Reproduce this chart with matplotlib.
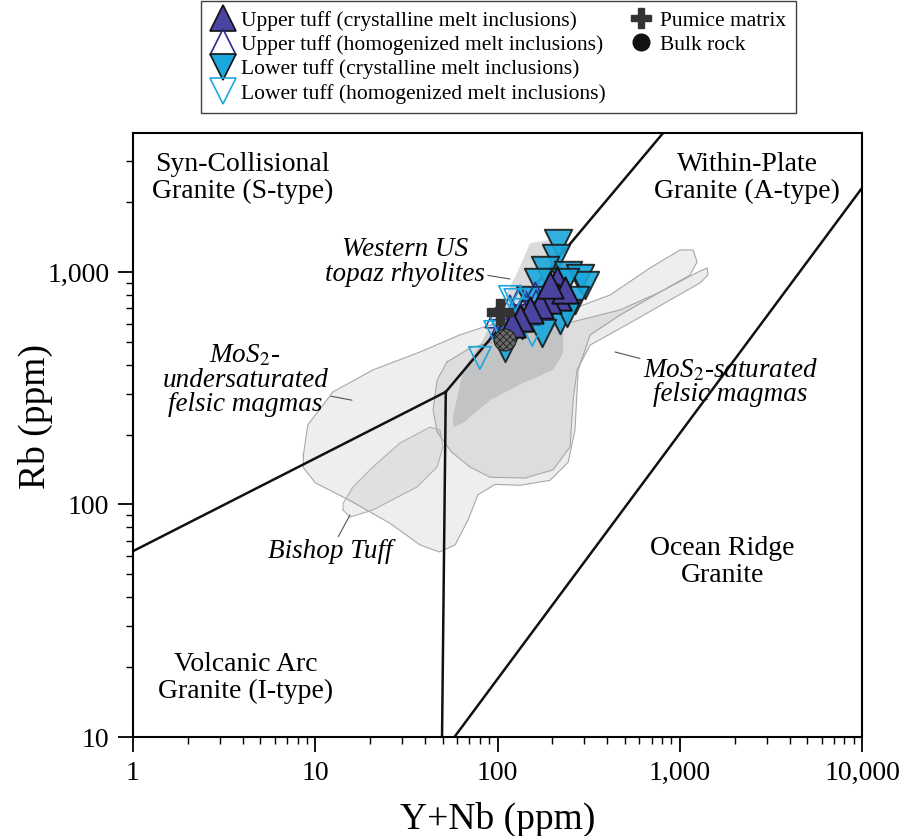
import matplotlib
matplotlib.use('Agg')
import matplotlib.pyplot as plt
from matplotlib.lines import Line2D
from matplotlib.ticker import FuncFormatter, LogLocator, NullFormatter

plt.rcParams['font.family'] = ['Liberation Serif', 'DejaVu Serif']
plt.rcParams['mathtext.fontset'] = 'stix'
plt.rcParams['hatch.linewidth'] = 0.6

# discrimination boundaries (Y+Nb, Rb)
syncolg_vag_x = [1, 52]
syncolg_vag_y = [63, 305]
vag_wpg_x = [52, 49.6]
vag_wpg_y = [305, 10]
syncolg_wpg_x = [52, 810]
syncolg_wpg_y = [305, 3960]
wpg_org_x = [58, 10000]
wpg_org_y = [10, 2300]

# field outlines
under_x = [8.6, 9.1, 12.5, 20.7, 37.6, 62, 91, 151, 250, 414, 687, 1003, 1183, 1244, 1138,
           780, 470, 322, 277, 266, 244, 194, 133, 97, 78, 69, 58.5, 48, 37.6, 25.7, 15.5, 10, 8.6]
under_y = [163, 220, 305, 379, 453, 536, 592, 634, 687, 796, 1041, 1244, 1244, 1104, 971,
           820, 653, 536, 379, 209, 152, 127, 121, 122, 110, 86, 67, 62.5, 67, 83, 104, 124, 144]
sat_x = [52.8, 46.6, 44.3, 46.6, 56, 70.6, 91, 142, 202, 250, 260, 273, 322, 533, 885, 1291,
         1429, 1413, 1259, 780, 470, 284, 171, 103, 70.6]
sat_y = [410, 343, 255, 205, 168, 145, 131, 130, 141, 177, 281, 379, 485, 604, 758, 897,
         971, 1041, 1000, 820, 687, 622, 564, 510, 471]
bishop_x = [14.2, 15.5, 20.7, 36.2, 46.6, 50.2, 48.3, 42.6, 29.2, 20.7, 16.1, 14.2]
bishop_y = [94.7, 88.3, 94.7, 119, 145, 177, 209, 215, 184, 145, 119, 101]
topaz_x = [151, 194, 212, 229, 241, 229, 229, 202, 138, 91, 64.7, 57, 57, 64.7, 83, 99, 128]
topaz_y = [1333, 1374, 1282, 1093, 837, 604, 449, 379, 333, 281, 224, 215, 238, 379, 510, 667, 990]

# melt inclusion and rock data
upper_cryst_x = [212, 215, 189, 171, 151, 133, 235, 194, 120]
upper_cryst_y = [924, 781, 758, 721, 687, 634, 837, 879, 600]
upper_homog_x = [103, 117, 125, 142, 110, 133, 161, 97, 110, 120, 133, 146, 163, 182,
                 103, 125, 151, 171, 194]
upper_homog_y = [687, 721, 653, 758, 622, 796, 820, 634, 592, 634, 673, 706, 758, 813,
                 574, 610, 653, 687, 758]
lower_cryst_x = [215, 209, 182, 244, 284, 167, 302, 235, 266, 220, 241, 175, 136, 110, 194, 151]
lower_cryst_y = [1333, 1149, 1020, 971, 943, 906, 879, 906, 758, 622, 667, 547, 592, 471, 721, 758]
lower_homog_x = [80, 97, 107, 155, 117, 125, 103, 133]
lower_homog_y = [427, 552, 552, 536, 781, 758, 592, 687]
pumice_x = [103]
pumice_y = [673]
bulk_x = [110]
bulk_y = [510]

c_up = '#4a43a0'
c_up_edge = '#2e2a8c'
c_low = '#1aa8dc'

fig = plt.figure(figsize=(9.08, 8.36), dpi=100)
ax = fig.add_axes([0.1465, 0.1184, 0.8029, 0.7225])
ax.set_xscale('log')
ax.set_yscale('log')
ax.set_xlim(1, 10000)
ax.set_ylim(10, 3960)

# fields
ax.fill(under_x, under_y, facecolor='#7f8085', alpha=0.13, zorder=1)
ax.plot(under_x + under_x[:1], under_y + under_y[:1], color='#a8a8a8', lw=0.8, zorder=1)
ax.fill(sat_x, sat_y, facecolor='#7f8085', alpha=0.15, zorder=1)
ax.plot(sat_x + sat_x[:1], sat_y + sat_y[:1], color='#a8a8a8', lw=0.8, zorder=1)
ax.fill(bishop_x, bishop_y, facecolor='#7f8085', alpha=0.12, zorder=1)
ax.plot(bishop_x + bishop_x[:1], bishop_y + bishop_y[:1], color='#b0b0b0', lw=0.8, zorder=1)
ax.fill(topaz_x, topaz_y, facecolor='#7f8085', alpha=0.28, zorder=1)

# boundaries
for bx, by in [(syncolg_vag_x, syncolg_vag_y), (vag_wpg_x, vag_wpg_y),
               (syncolg_wpg_x, syncolg_wpg_y), (wpg_org_x, wpg_org_y)]:
    ax.plot(bx, by, color='#111111', lw=1.8, zorder=2)

# data
ax.scatter(lower_cryst_x, lower_cryst_y, marker='v', s=390, facecolor=c_low,
           edgecolor='#1a1a1a', linewidth=1.4, alpha=0.9, zorder=3)
ax.scatter(upper_homog_x, upper_homog_y, marker='^', s=200, facecolor='none',
           edgecolor=c_up_edge, linewidth=1.1, zorder=4)
ax.scatter(lower_homog_x, lower_homog_y, marker='v', s=260, facecolor='none',
           edgecolor=c_low, linewidth=1.2, zorder=4)
ax.scatter(upper_cryst_x, upper_cryst_y, marker='^', s=360, facecolor=c_up,
           edgecolor='#111111', linewidth=1.4, zorder=5)
ax.scatter(pumice_x, pumice_y, marker='P', s=330, color='#333333', zorder=6)
ax.scatter(bulk_x, bulk_y, marker='o', s=250, facecolor='#6a6a6a', edgecolor='#222222',
           hatch='xxxxx', linewidth=0.8, zorder=6)

# field labels
for tx, ty, txt in [(4.0, 2535, 'Syn-Collisional\nGranite (S-type)'),
                    (2340, 2535, 'Within-Plate\nGranite (A-type)'),
                    (1706, 56.6, 'Ocean Ridge\nGranite'),
                    (4.17, 17.9, 'Volcanic Arc\nGranite (I-type)')]:
    ax.text(tx, ty, txt, ha='center', va='center', fontsize=20, linespacing=1.1)

lead = dict(arrowstyle='-', color='#555555', lw=0.8, shrinkA=0, shrinkB=0)
ax.annotate('Western US\ntopaz rhyolites', xy=(117, 933), xytext=(31.1, 1104),
            ha='center', va='center', fontsize=19.5, style='italic', linespacing=0.95,
            arrowprops=lead)
ax.annotate('MoS$_2$-\nundersaturated\nfelsic magmas', xy=(15.9, 281), xytext=(4.12, 343),
            ha='center', va='center', fontsize=19.5, style='italic', linespacing=0.95,
            arrowprops=lead)
ax.annotate('MoS$_2$-saturated\nfelsic magmas', xy=(441, 453), xytext=(1888, 336),
            ha='center', va='center', fontsize=19.5, style='italic', linespacing=0.95,
            arrowprops=lead)
ax.annotate('Bishop Tuff', xy=(15.5, 90.2), xytext=(12.05, 62.5),
            ha='center', va='center', fontsize=19.5, style='italic', arrowprops=lead)

# axes styling
for sp in ax.spines.values():
    sp.set_linewidth(1.5)
ax.tick_params(which='major', direction='out', length=11, width=1.3, labelsize=20, pad=6)
ax.tick_params(which='minor', direction='out', length=5, width=1.0)
ax.xaxis.set_major_locator(LogLocator(base=10, numticks=10))
ax.yaxis.set_major_locator(LogLocator(base=10, numticks=10))
ax.xaxis.set_minor_locator(LogLocator(base=10, subs=range(2, 10), numticks=20))
ax.yaxis.set_minor_locator(LogLocator(base=10, subs=range(2, 10), numticks=20))
fmt = FuncFormatter(lambda v, p: '{:,.0f}'.format(v))
ax.xaxis.set_major_formatter(fmt)
ax.yaxis.set_major_formatter(fmt)
ax.xaxis.set_minor_formatter(NullFormatter())
ax.yaxis.set_minor_formatter(NullFormatter())
ax.set_xlabel('Y+Nb (ppm)', fontsize=27, labelpad=12)
ax.set_ylabel('Rb (ppm)', fontsize=27)
ax.yaxis.set_label_coords(-0.11, 0.53)

# legend
blank = Line2D([], [], linestyle='none', marker='none')
handles = [
    Line2D([], [], linestyle='none', marker='^', markersize=19, markerfacecolor=c_up,
           markeredgecolor='#111111', markeredgewidth=1.2),
    Line2D([], [], linestyle='none', marker='^', markersize=19, markerfacecolor='none',
           markeredgecolor=c_up_edge, markeredgewidth=1.2),
    Line2D([], [], linestyle='none', marker='v', markersize=19, markerfacecolor=c_low,
           markeredgecolor='#111111', markeredgewidth=1.2),
    Line2D([], [], linestyle='none', marker='v', markersize=19, markerfacecolor='none',
           markeredgecolor=c_low, markeredgewidth=1.2),
    Line2D([], [], linestyle='none', marker='P', markersize=15, color='#333333'),
    Line2D([], [], linestyle='none', marker='o', markersize=12, color='#111111'),
    blank, blank,
]
labels = ['Upper tuff (crystalline melt inclusions)',
          'Upper tuff (homogenized melt inclusions)',
          'Lower tuff (crystalline melt inclusions)',
          'Lower tuff (homogenized melt inclusions)',
          'Pumice matrix', 'Bulk rock', '', '']
leg = fig.legend(handles, labels, ncol=2, loc='upper center', bbox_to_anchor=(0.549, 0.999),
                 fontsize=15.5, frameon=True, fancybox=False, edgecolor='#111111',
                 handlelength=1.1, handletextpad=0.3, labelspacing=0.2, columnspacing=1.1,
                 borderpad=0.45, borderaxespad=0)
leg.get_frame().set_linewidth(1.0)

fig.savefig('out.png', dpi=100)
